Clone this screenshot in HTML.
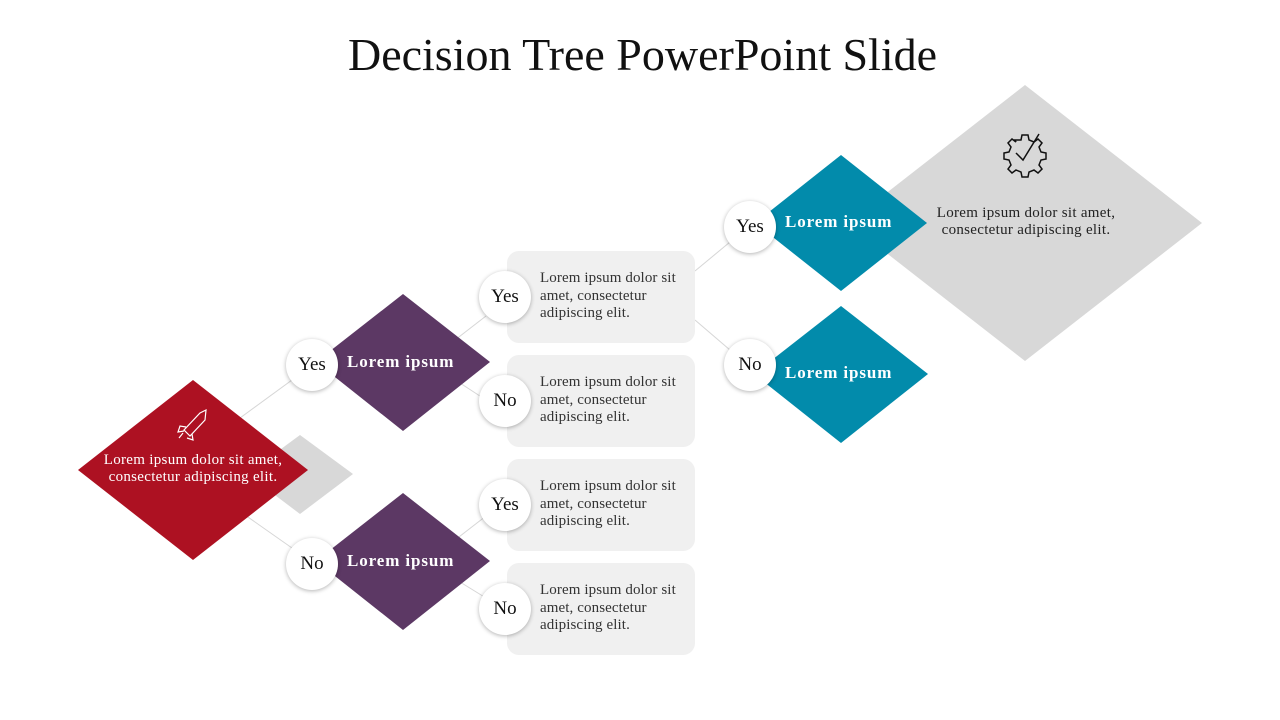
<!DOCTYPE html>
<html><head><meta charset="utf-8"><style>
body{margin:0;width:1280px;height:720px;background:#fff;position:relative;overflow:hidden;font-family:"Liberation Serif","DejaVu Serif",serif}
.t{position:absolute;white-space:nowrap}
.box{position:absolute;left:507px;width:188px;height:92px;background:#f0f0f0;border-radius:12px}
.box div{position:absolute;left:33px;top:19px;font-size:15px;letter-spacing:0.1px;line-height:17.5px;color:#333}
.c{position:absolute;width:52px;height:52px;border-radius:50%;background:#fff;box-shadow:0 1px 4px rgba(0,0,0,.3);font-size:19px;color:#111;text-align:center;line-height:52px}
.lb{position:absolute;color:#fff;font-weight:bold;font-size:17px;letter-spacing:0.9px;white-space:nowrap}
</style></head><body>
<div class="t" style="left:0;width:1285px;text-align:center;top:28px;font-size:46px;color:#111">Decision Tree PowerPoint Slide</div>
<svg width="1280" height="720" style="position:absolute;left:0;top:0">
<g stroke="#d6d6d6" stroke-width="1">
<line x1="240" y1="418" x2="292" y2="380"/><line x1="245" y1="515" x2="292" y2="548"/>
<line x1="455" y1="340" x2="486" y2="316"/><line x1="460" y1="383" x2="486" y2="400"/>
<line x1="455" y1="540" x2="486" y2="516"/><line x1="460" y1="582" x2="486" y2="598"/>
<line x1="695" y1="271" x2="730" y2="242"/><line x1="695" y1="320" x2="730" y2="350"/>
</g>
<polygon points="1025,85 1202,223 1025,361 848,223" fill="#d8d8d8"/>
<polygon points="300,435 353,474 300,514 247,474" fill="#d8d8d8"/>
<polygon points="193,380 308,470 193,560 78,470" fill="#ad1122"/>
<polygon points="403,294 490,362 403,431 316,362" fill="#5c3864"/>
<polygon points="403,493 490,561 403,630 316,561" fill="#5c3864"/>
<polygon points="841,155 927,223 841,291 755,223" fill="#028bab"/>
<polygon points="841,306 928,374 841,443 754,374" fill="#028bab"/>
<g fill="none" stroke="#fff" stroke-width="1.2">
<path d="M206,410 L200,413 L184,430 L190,436 L205,420 Z"/><path d="M186,427 L180,426 L178,432 L184,431"/><path d="M192,434 L193,440 L187,438"/><path d="M183,433 L179,438"/>
</g>
<g fill="none" stroke="#111" stroke-width="1.5">
<path d="M1015,140 l6,0 1,-5 6,0 1,5 5,2 4,-3 4,4 -3,4 2,5 5,1 0,6 -5,1 -2,5 3,4 -4,4 -4,-3 -5,2 -1,5 -6,0 -1,-5 -5,-2 -4,3 -4,-4 3,-4 -2,-5 -5,-1 0,-6 5,-1 2,-5 -3,-4 4,-4 4,3z"/>
<path d="M1016,153 l7,7 l16,-26"/>
</g>
</svg>
<div class="t" style="left:78px;width:230px;text-align:center;top:452px;font-size:15px;letter-spacing:0.3px;line-height:17px;color:#fff">Lorem ipsum dolor sit amet,<br>consectetur adipiscing elit.</div>
<div class="t" style="left:910px;width:232px;text-align:center;top:205px;font-size:15px;letter-spacing:0.3px;line-height:17px;color:#222">Lorem ipsum dolor sit amet,<br>consectetur adipiscing elit.</div>
<div class="lb" style="left:347px;top:352px">Lorem ipsum</div>
<div class="lb" style="left:347px;top:551px">Lorem ipsum</div>
<div class="lb" style="left:785px;top:212px">Lorem ipsum</div>
<div class="lb" style="left:785px;top:363px">Lorem ipsum</div>
<div class="box" style="top:251px"><div>Lorem ipsum dolor sit<br>amet, consectetur<br>adipiscing elit.</div></div>
<div class="box" style="top:355px"><div>Lorem ipsum dolor sit<br>amet, consectetur<br>adipiscing elit.</div></div>
<div class="box" style="top:459px"><div>Lorem ipsum dolor sit<br>amet, consectetur<br>adipiscing elit.</div></div>
<div class="box" style="top:563px"><div>Lorem ipsum dolor sit<br>amet, consectetur<br>adipiscing elit.</div></div>
<div class="c" style="left:286px;top:339px">Yes</div>
<div class="c" style="left:286px;top:538px">No</div>
<div class="c" style="left:479px;top:271px">Yes</div>
<div class="c" style="left:479px;top:375px">No</div>
<div class="c" style="left:479px;top:479px">Yes</div>
<div class="c" style="left:479px;top:583px">No</div>
<div class="c" style="left:724px;top:201px">Yes</div>
<div class="c" style="left:724px;top:339px">No</div>
</body></html>
